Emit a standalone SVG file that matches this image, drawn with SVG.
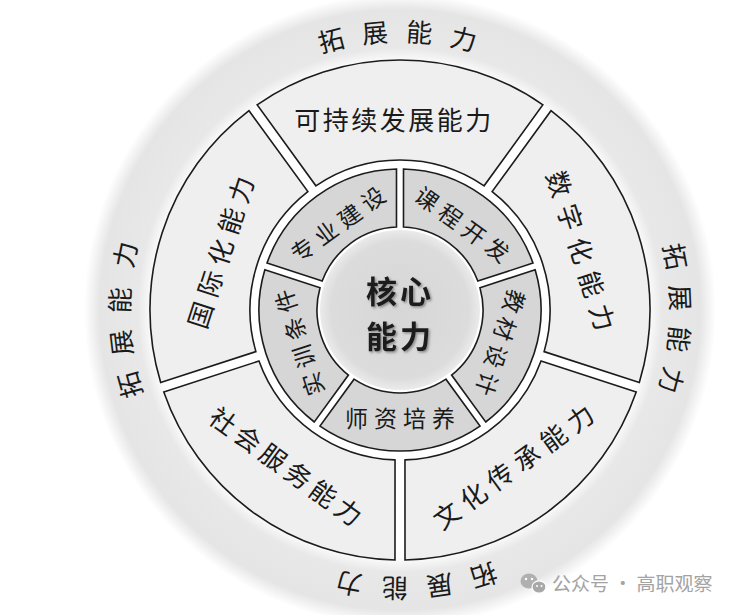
<svg xmlns="http://www.w3.org/2000/svg" width="740" height="615" viewBox="0 0 740 615">
<style>
.seg-o { fill:#efefef; stroke:#1c1c1c; stroke-width:1.6; }
.seg-i { fill:#d6d6d6; stroke:#1c1c1c; stroke-width:1.6; }
.t { font-family:"Noto Sans CJK SC", sans-serif; fill:#1a1a1a; text-anchor:middle; dominant-baseline:central; }
.o { font-size:26px; }
.i { font-size:23px; letter-spacing:6px; }
.x { font-size:26px; }
.c { font-size:31px; font-weight:bold; letter-spacing:3px; filter:url(#shadow); }
.wm { font-family:"Noto Sans CJK SC", sans-serif; font-size:19px; fill:#a3a3a3; }
</style>
<defs>
<radialGradient id="band" cx="400" cy="310" r="316" gradientUnits="userSpaceOnUse">
<stop offset="0.78" stop-color="#ffffff"/>
<stop offset="0.83" stop-color="#e8e8e8"/>
<stop offset="0.95" stop-color="#e5e5e5"/>
<stop offset="1" stop-color="#ffffff"/>
</radialGradient>
<radialGradient id="coreg" cx="400" cy="310" r="81" gradientUnits="userSpaceOnUse">
<stop offset="0" stop-color="#d6d6d6"/>
<stop offset="0.85" stop-color="#dcdcdc"/>
<stop offset="1" stop-color="#ececec"/>
</radialGradient>
<filter id="shadow" x="-20%" y="-20%" width="140%" height="140%">
<feDropShadow dx="1.5" dy="1.5" stdDeviation="1.2" flood-color="#666" flood-opacity="0.7"/>
</filter>
<path id="outerSeg" d="M257.1,104.8 A250,250 0 0 1 542.9,104.8 L484.1,185.8 A150,150 0 0 0 315.9,185.8 Z"/>
<path id="innerSeg" d="M319.97,193.9 A141,141 0 0 1 480.03,193.9 L445.92,240.83 A83,83 0 0 0 354.08,240.83 Z"/>
</defs>
<rect width="740" height="615" fill="#ffffff"/>
<circle cx="400" cy="310" r="316" fill="url(#band)"/>

<g id="expand-labels">
<text class="t x" x="400" y="30" transform="rotate(-14.3 400 310)">拓</text>
<text class="t x" x="400" y="30" transform="rotate(-5.2 400 310)">展</text>
<text class="t x" x="400" y="30" transform="rotate(4 400 310)">能</text>
<text class="t x" x="400" y="30" transform="rotate(13.2 400 310)">力</text>
<text class="t x" x="400" y="28" transform="rotate(79 400 310)">拓</text>
<text class="t x" x="400" y="28" transform="rotate(87.5 400 310)">展</text>
<text class="t x" x="400" y="28" transform="rotate(96 400 310)">能</text>
<text class="t x" x="400" y="28" transform="rotate(104.5 400 310)">力</text>
<text class="t x" x="400" y="30" transform="rotate(162.5 400 310)">拓</text>
<text class="t x" x="400" y="30" transform="rotate(171.8 400 310)">展</text>
<text class="t x" x="400" y="30" transform="rotate(181 400 310)">能</text>
<text class="t x" x="400" y="30" transform="rotate(190.5 400 310)">力</text>
<text class="t x" x="400" y="28" transform="rotate(254.5 400 310)">拓</text>
<text class="t x" x="400" y="28" transform="rotate(263.3 400 310)">展</text>
<text class="t x" x="400" y="28" transform="rotate(272 400 310)">能</text>
<text class="t x" x="400" y="28" transform="rotate(281.4 400 310)">力</text>
</g>

<g id="sustainable">
<use href="#outerSeg" class="seg-o"/>
<text class="t o" x="394" y="118" letter-spacing="2.5">可持续发展能力</text>
</g>
<g id="digital" transform="rotate(72 400 310)">
<use href="#outerSeg" class="seg-o"/>
<text class="t o" x="404" y="118" letter-spacing="9">数字化能力</text>
</g>
<g id="culture" transform="rotate(144 400 310)">
<use href="#outerSeg" class="seg-o"/>
<text class="t o" x="403" y="118" letter-spacing="7" transform="rotate(180 400 118)">文化传承能力</text>
</g>
<g id="social" transform="rotate(216 400 310)">
<use href="#outerSeg" class="seg-o"/>
<text class="t o" x="402" y="118" letter-spacing="5" transform="rotate(180 400 118)">社会服务能力</text>
</g>
<g id="international" transform="rotate(288 400 310)">
<use href="#outerSeg" class="seg-o"/>
<text class="t o" x="403" y="120" letter-spacing="7">国际化能力</text>
</g>

<g id="major" transform="rotate(-36 400 310)">
<use href="#innerSeg" class="seg-i"/>
<text class="t i" x="403" y="203">专业建设</text>
</g>
<g id="course" transform="rotate(36 400 310)">
<use href="#innerSeg" class="seg-i"/>
<text class="t i" x="403" y="203">课程开发</text>
</g>
<g id="textbook" transform="rotate(108 400 310)">
<use href="#innerSeg" class="seg-i"/>
<text class="t i" x="403" y="203">教材设计</text>
</g>
<g id="teachers" transform="rotate(180 400 310)">
<use href="#innerSeg" class="seg-i"/>
<text class="t i" x="403" y="203" transform="rotate(180 400 203)">师资培养</text>
</g>
<g id="training" transform="rotate(252 400 310)">
<use href="#innerSeg" class="seg-i"/>
<text class="t i" x="403" y="203">实训条件</text>
</g>

<g id="core">
<circle cx="400" cy="310" r="80" fill="url(#coreg)"/>
<text class="t c" x="400" y="289">核心</text>
<text class="t c" x="400" y="334">能力</text>
</g>

<g id="connectors"/>

<g id="watermark">
<ellipse cx="529" cy="581" rx="8.5" ry="7.5" fill="#b0b0b0"/>
<ellipse cx="539" cy="587" rx="7" ry="6.2" fill="#a8a8a8" stroke="#ffffff" stroke-width="1.2"/>
<circle cx="526" cy="579" r="1.2" fill="#fff"/>
<circle cx="532" cy="579" r="1.2" fill="#fff"/>
<circle cx="537" cy="586" r="1" fill="#fff"/>
<circle cx="541.5" cy="586" r="1" fill="#fff"/>
<text class="wm" x="552" y="591">公众号 · 高职观察</text>
</g>
</svg>
